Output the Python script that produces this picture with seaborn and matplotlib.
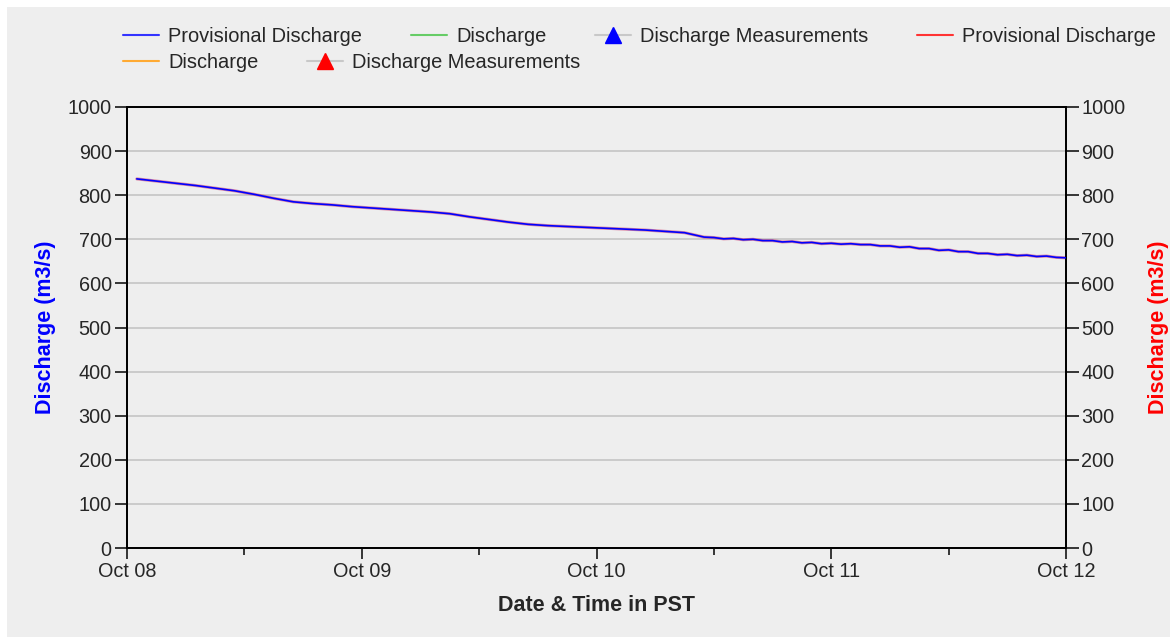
import numpy as np
import pandas as pd
import matplotlib
matplotlib.use("Agg")
import matplotlib.pyplot as plt
import matplotlib.dates as mdates
from matplotlib.lines import Line2D
from matplotlib.patches import Rectangle
import seaborn as sns

# ---- data ----
hours = [1, 3, 5, 7, 9, 11, 13, 15, 17, 19, 21, 23, 25, 27, 29, 31, 33, 35, 37, 39,
         41, 43, 45, 47, 49, 51, 53, 55, 57, 58, 59, 60, 61, 62, 63, 64, 65, 66, 67,
         68, 69, 70, 71, 72, 73, 74, 75, 76, 77, 78, 79, 80, 81, 82, 83, 84, 85, 86,
         87, 88, 89, 90, 91, 92, 93, 94, 95, 96]
discharge = [837, 832, 827, 822, 816, 810, 802, 793, 785, 781, 778, 774, 771, 768,
             765, 762, 758, 751, 745, 739, 734, 731, 729, 727, 725, 723, 721, 718,
             715, 710, 705, 704, 701, 702, 699, 700, 697, 697, 694, 695, 692, 693,
             690, 691, 689, 690, 688, 688, 685, 685, 682, 683, 679, 679, 675, 676,
             672, 672, 668, 668, 665, 666, 663, 664, 661, 662, 659, 658]
x_tick_labels = ["Oct 08", "Oct 09", "Oct 10", "Oct 11", "Oct 12"]
y_ticks = [0, 100, 200, 300, 400, 500, 600, 700, 800, 900, 1000]
start = pd.Timestamp("2023-10-08 00:00")

times = [start + pd.Timedelta(hours=h) for h in hours]
df = pd.DataFrame({"time": times, "discharge": discharge})

sns.set_style("white")
plt.rcParams["font.family"] = ["Liberation Sans", "DejaVu Sans"]

fig = plt.figure(figsize=(11.70, 6.39), dpi=100, facecolor="white")
fig.patches.append(Rectangle((7 / 1170, 2 / 639), 1163 / 1170, 630 / 639,
                             transform=fig.transFigure, facecolor="#eeeeee",
                             edgecolor="none", zorder=-10))

ax = fig.add_axes([127 / 1170, 1 - 548 / 639, (1066 - 127) / 1170, (548 - 107) / 639])
ax.set_facecolor("#dcdcdc")
ax2 = ax.twinx()
ax.set_zorder(2)
ax2.set_zorder(1)
ax.patch.set_visible(False)
ax2.patch.set_facecolor("#dcdcdc")

# red series (right axis) drawn under the blue series
sns.lineplot(data=df, x="time", y="discharge", ax=ax, color="#cc3366", lw=2.2,
             alpha=0.55, zorder=2)
sns.lineplot(data=df, x="time", y="discharge", ax=ax, color="#0000ff", lw=1.2, zorder=3)

xmin = start
xmax = start + pd.Timedelta(days=4)
for a in (ax, ax2):
    a.set_xlim(xmin, xmax)
    a.set_ylim(0, 1000)
    a.set_yticks(y_ticks)
    a.set_yticklabels([str(v) for v in y_ticks])
    for s in a.spines.values():
        s.set_color("black")
        s.set_linewidth(1.3)

ax2.grid(axis="y", color="#c4c4c4", lw=1.2)
ax2.grid(axis="x", visible=False)
ax.grid(False)

fs = 14.3
ax.set_xticks([start + pd.Timedelta(days=i) for i in range(5)])
ax.set_xticklabels(x_tick_labels)
ax.set_xticks([start + pd.Timedelta(hours=12 + 24 * i) for i in range(4)], minor=True)
ax.tick_params(axis="x", which="major", direction="out", length=8, width=1.3,
               labelsize=fs, pad=2, bottom=True)
ax.tick_params(axis="x", which="minor", direction="out", length=5, width=1.3, bottom=True)
ax.tick_params(axis="y", direction="out", length=9, width=1.3, labelsize=fs, pad=2, left=True)
ax2.tick_params(axis="y", direction="out", length=9, width=1.3, labelsize=fs, pad=2, right=True)

ax.set_xlabel("Date & Time in PST", fontsize=15.5, fontweight="bold", labelpad=10)
ax.set_ylabel("Discharge (m3/s)", fontsize=15.5, fontweight="bold", color="#0000ff", labelpad=8)
ax2.set_ylabel("Discharge (m3/s)", fontsize=15.5, fontweight="bold", color="#ff0000", labelpad=16)

grey = "#c8c8c8"
row1 = [Line2D([], [], color="#3333ff", lw=1.5),
        Line2D([], [], color="#66cc66", lw=1.5),
        Line2D([], [], color=grey, lw=1.5, marker="^", markersize=11,
               markerfacecolor="#0000ff", markeredgecolor="#0000ff"),
        Line2D([], [], color="#ff3333", lw=1.5)]
row1_labels = ["Provisional Discharge", "Discharge", "Discharge Measurements",
               "Provisional Discharge"]
row2 = [Line2D([], [], color="#ffaa33", lw=1.5),
        Line2D([], [], color=grey, lw=1.5, marker="^", markersize=11,
               markerfacecolor="#ff0000", markeredgecolor="#ff0000")]
row2_labels = ["Discharge", "Discharge Measurements"]

kw = dict(frameon=False, fontsize=14.4, handlelength=1.8, handletextpad=0.45,
          columnspacing=2.45, borderpad=0, borderaxespad=0)
leg1 = fig.legend(row1, row1_labels, ncol=4, loc="center left",
                  bbox_to_anchor=(123 / 1170, 1 - 36 / 639), **kw)
leg2 = fig.legend(row2, row2_labels, ncol=2, loc="center left",
                  bbox_to_anchor=(123 / 1170, 1 - 62 / 639), **kw)

fig.savefig("out.png", dpi=100, facecolor=fig.get_facecolor())
